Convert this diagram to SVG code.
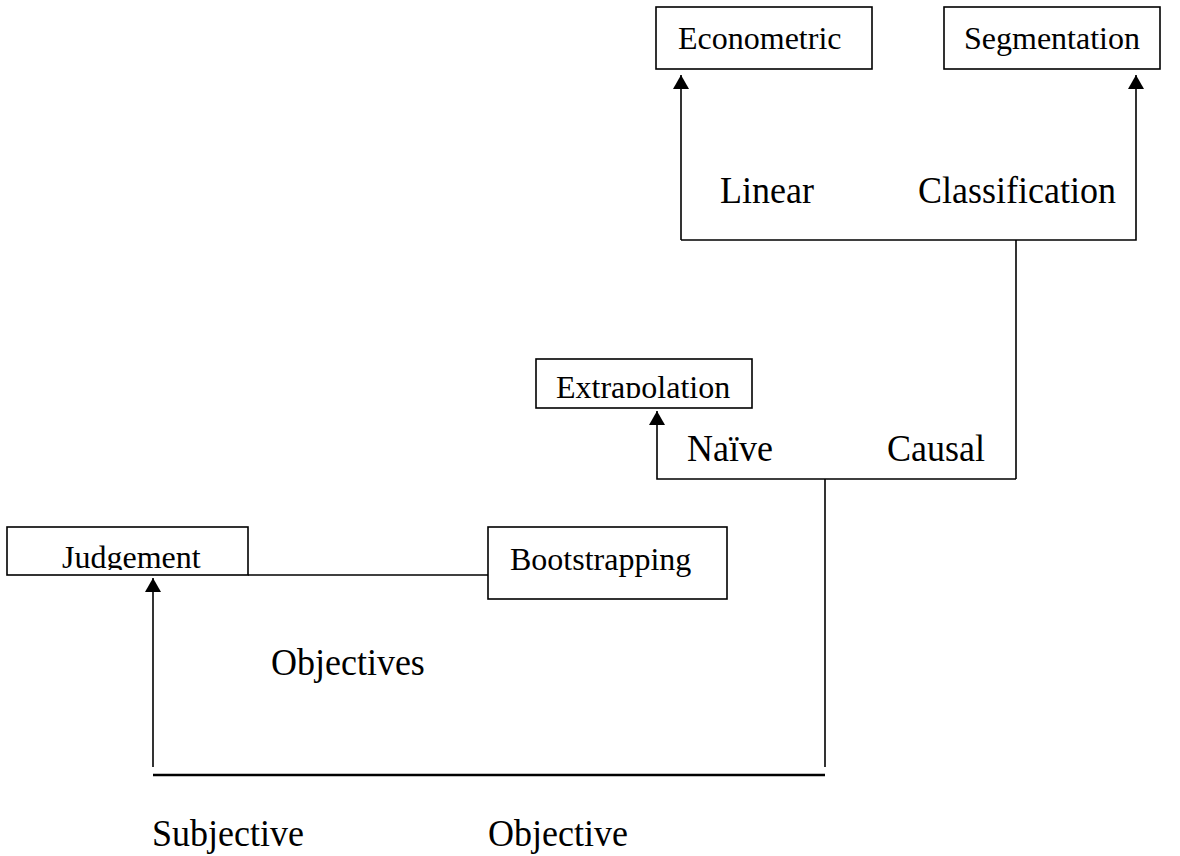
<svg xmlns="http://www.w3.org/2000/svg" width="1180" height="856" viewBox="0 0 1180 856">
<style>
.box{fill:#fff;stroke:#000;stroke-width:1.6}
.bt{font-family:"Liberation Serif","Times New Roman",serif;font-size:32px;fill:#000}
.lb{font-family:"Liberation Serif","Times New Roman",serif;font-size:36px;fill:#000}
.ln{fill:none;stroke:#000;stroke-width:1.6}
</style>
<defs>
<marker id="arr" markerUnits="userSpaceOnUse" markerWidth="16" markerHeight="16" viewBox="0 0 16 16" refX="14" refY="8" orient="auto">
<path d="M0,0 L14,8 L0,16 Z" fill="#000"/>
</marker>
<clipPath id="cExt"><rect x="537" y="360" width="214" height="38"/></clipPath>
<clipPath id="cJud"><rect x="8" y="543" width="239" height="27"/></clipPath>
</defs>
<rect width="1180" height="856" fill="#fff"/>
<g id="connectors">
<polyline class="ln" points="681,240 681,75" marker-end="url(#arr)"/>
<polyline class="ln" points="681,240 1136,240 1136,75" marker-end="url(#arr)"/>
<line class="ln" x1="1016" y1="240" x2="1016" y2="479"/>
<polyline class="ln" points="1016,479 657,479 657,411" marker-end="url(#arr)"/>
<line class="ln" x1="825" y1="479" x2="825" y2="767"/>
<polyline class="ln" points="153,767 153,578" marker-end="url(#arr)"/>
<line x1="153" y1="775" x2="825" y2="775" stroke="#000" stroke-width="2.6"/>
<line class="ln" x1="248" y1="575" x2="488" y2="575"/>
</g>
<g id="econometric">
<rect class="box" x="656" y="7" width="216" height="62"/>
<text class="bt" x="678" y="49">Econometric</text>
</g>
<g id="segmentation">
<rect class="box" x="944" y="7" width="216" height="62"/>
<text class="bt" x="964" y="49">Segmentation</text>
</g>
<g id="extrapolation">
<rect class="box" x="536" y="359" width="216" height="49"/>
<text class="bt" x="556" y="398" clip-path="url(#cExt)">Extrapolation</text>
</g>
<g id="judgement">
<rect class="box" x="7" y="527" width="241" height="48"/>
<text class="bt" x="62" y="568" clip-path="url(#cJud)">Judgement</text>
</g>
<g id="bootstrapping">
<rect class="box" x="488" y="527" width="239" height="72"/>
<text class="bt" x="510" y="570">Bootstrapping</text>
</g>
<g id="labels">
<text class="lb" transform="translate(720,203) scale(1,1.06)">Linear</text>
<text class="lb" transform="translate(918,203) scale(1,1.06)">Classification</text>
<text class="lb" transform="translate(687,461) scale(1,1.06)">Naïve</text>
<text class="lb" transform="translate(887,461) scale(1,1.06)">Causal</text>
<text class="lb" transform="translate(271,675) scale(1,1.06)">Objectives</text>
<text class="lb" transform="translate(152,846) scale(1,1.06)">Subjective</text>
<text class="lb" transform="translate(488,846) scale(1,1.06)">Objective</text>
</g>
</svg>
